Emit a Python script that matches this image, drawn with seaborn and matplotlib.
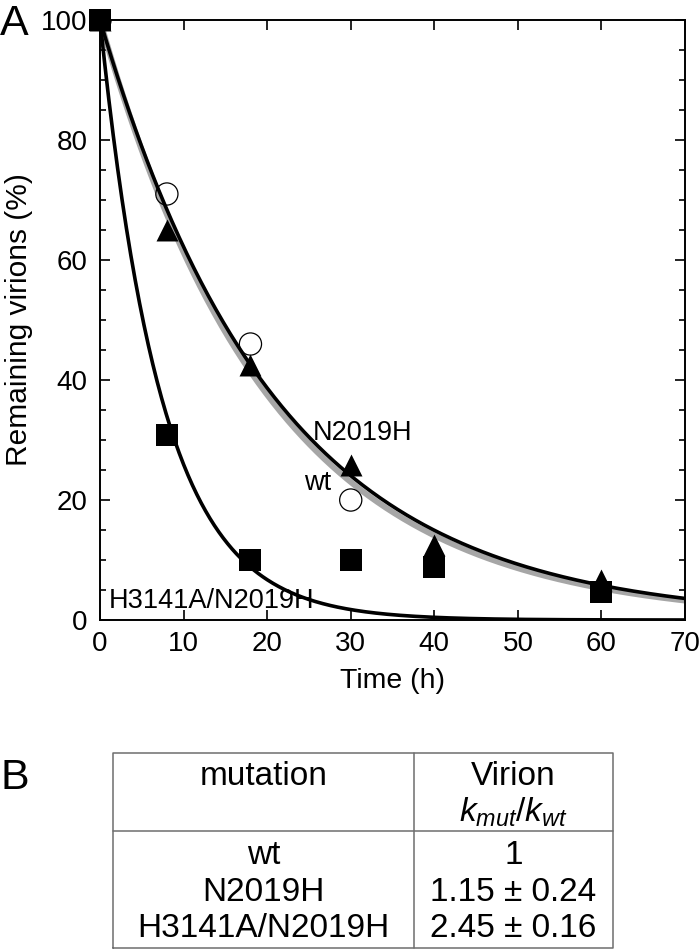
import numpy as np
import pandas as pd
import seaborn as sns
import matplotlib.pyplot as plt
from matplotlib.ticker import MultipleLocator

# data
time_wt = [0, 8, 18, 30]
wt = [100, 71, 46, 20]
time_n = [0, 8, 18, 30, 40, 60]
n2019h = [100, 65, 42.5, 25.8, 12.5, 6.7]
time_h = [0, 8, 18, 30, 40, 60]
h3141a = [100, 30.8, 10, 10, 8.9, 4.7]

# first order decay rates (1/h) of the fitted curves
k_wt = 0.049
k_n = 0.0475
k_h = 0.135

# table of panel B
mutations = ["wt", "N2019H", "H3141A/N2019H"]
ratios = ["1", "1.15 \u00b1 0.24", "2.45 \u00b1 0.16"]

sns.set_style("ticks")
plt.rcParams['font.family'] = ['Liberation Sans', 'DejaVu Sans']
plt.rcParams['mathtext.fontset'] = 'custom'
plt.rcParams['mathtext.it'] = 'Liberation Sans:italic'
plt.rcParams['mathtext.rm'] = 'Liberation Sans'
plt.rcParams['text.color'] = 'black'
plt.rcParams['axes.labelcolor'] = 'black'
plt.rcParams['xtick.color'] = 'black'
plt.rcParams['ytick.color'] = 'black'

fig = plt.figure(figsize=(7, 9.52), dpi=100)
ax = fig.add_axes([0.1429, 0.3487, 0.8357, 0.6303])

# fitted curves
t = np.linspace(0, 70, 400)
fits = pd.DataFrame({"t": t,
                     "wt": 100 * np.exp(-k_wt * t),
                     "n": 100 * np.exp(-k_n * t),
                     "h": 100 * np.exp(-k_h * t)})
sns.lineplot(data=fits, x="t", y="wt", color="#a6a6a6", lw=4.2, ax=ax)
sns.lineplot(data=fits, x="t", y="n", color="black", lw=2.6, ax=ax)
sns.lineplot(data=fits, x="t", y="h", color="black", lw=2.6, ax=ax)

# measured points
sns.scatterplot(x=time_wt, y=wt, marker="o", s=255, facecolors="none",
                edgecolors="black", linewidth=0.9, zorder=3, ax=ax)
sns.scatterplot(x=time_n, y=n2019h, marker="^", s=250, color="black",
                edgecolor="black", linewidth=0, zorder=4, clip_on=False, ax=ax)
sns.scatterplot(x=time_h, y=h3141a, marker="s", s=240, color="black",
                edgecolor="black", linewidth=0, zorder=5, clip_on=False, ax=ax)

ax.text(25.5, 30, "N2019H", fontsize=19.5, ha="left", va="baseline")
ax.text(27.6, 21.6, "wt", fontsize=19.5, ha="right", va="baseline")
ax.text(1.0, 2.0, "H3141A/N2019H", fontsize=19.5, ha="left", va="baseline")

ax.set_xlim(0, 70)
ax.set_ylim(0, 100)
ax.xaxis.set_major_locator(MultipleLocator(10))
ax.yaxis.set_major_locator(MultipleLocator(20))
ax.yaxis.set_minor_locator(MultipleLocator(5))
ax.tick_params(axis="both", which="both", direction="in", top=True, right=True,
               color="black", width=1.2)
ax.tick_params(axis="both", which="major", length=7, labelsize=20)
ax.tick_params(axis="y", which="minor", length=4)
ax.tick_params(axis="y", which="major", pad=9)
ax.tick_params(axis="x", which="major", pad=8)
for sp in ax.spines.values():
    sp.set_linewidth(1.4)
    sp.set_color("black")
ax.set_xlabel("Time (h)", fontsize=20.5, labelpad=8)
ax.set_ylabel("Remaining virions (%)", fontsize=21.5, labelpad=6)

fig.text(0.0, 1 - 35 / 952, "A", fontsize=31, ha="left", va="baseline")
fig.text(0.0, 1 - 789 / 952, "B", fontsize=31, ha="left", va="baseline")

# panel B table
tab = fig.add_axes([0.1614, 0.0042, 0.7143, 0.2048])
tab.set_xlim(0, 1)
tab.set_ylim(0, 1)
tab.axis("off")
line_kw = dict(color="#6e6e6e", lw=1.1, clip_on=False)
tab.plot([0, 1, 1, 0, 0], [0, 0, 1, 1, 0], **line_kw)
tab.plot([0, 1], [0.6, 0.6], **line_kw)
tab.plot([0.602, 0.602], [0, 1], **line_kw)

c1, c2 = 0.301, 0.801
fs = 24
tab.text(c1, 0.836, "mutation", fontsize=fs, ha="center", va="baseline")
tab.text(c2, 0.836, "Virion", fontsize=fs, ha="center", va="baseline")
tab.text(c2, 0.646, r"$k_{mut}/k_{wt}$", fontsize=fs, ha="center", va="baseline")
row_y = [0.431, 0.241, 0.056]
for m, r, y in zip(mutations, ratios, row_y):
    tab.text(c1, y, m, fontsize=fs, ha="center", va="baseline")
    tab.text(c2, y, r, fontsize=fs, ha="center", va="baseline")

fig.savefig("out.png", dpi=100)
